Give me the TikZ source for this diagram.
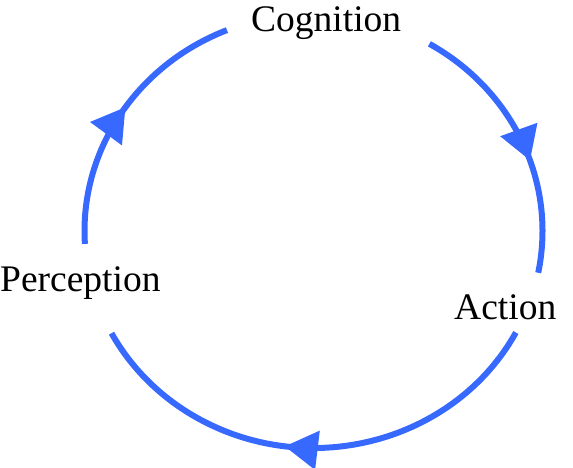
\documentclass[tikz,border=0pt]{standalone}
\usepackage{fontspec}
\setmainfont{Liberation Serif}
\usetikzlibrary{arrows.meta,decorations.markings}
\definecolor{cycblue}{RGB}{55,105,255}
\tikzset{
  lbl/.style={inner sep=0pt, anchor=base west, font=\fontsize{37.5pt}{40pt}\selectfont, text=black},
  cyc/.style={draw=cycblue, line width=6pt},
  headat/.style={decoration={markings, mark=at position #1 with {\arrow[cycblue]{Triangle[length=33pt,width=38pt]}}}, postaction={decorate}}
}
\begin{document}
\begin{tikzpicture}[x=1pt,y=1pt]
\useasboundingbox (0,0) rectangle (573,467);
\coordinate (c) at (313.5,236);
% labels
\node[lbl] (cog) at (251,435) {Cognition};
\node[lbl] (act) at (454,148) {Action};
\node[lbl] (per) at (0,176) {Perception};
% arc end points
\coordinate (l0) at ([shift={(183.4:229pt and 217pt)}]c);
\coordinate (r0) at ([shift={(59.6:229pt and 217pt)}]c);
\coordinate (b0) at ([shift={(-27.9:229pt and 217pt)}]c);
% arcs: Perception -> Cognition -> Action -> Perception
\draw[cyc, headat=0.53] (l0) arc[start angle=183.4, end angle=112.2, x radius=229pt, y radius=217pt];
\draw[cyc, headat=0.58] (r0) arc[start angle=59.6, end angle=-11.1, x radius=229pt, y radius=217pt];
\draw[cyc, headat=0.56] (b0) arc[start angle=-27.9, end angle=-151.9, x radius=229pt, y radius=217pt];
\end{tikzpicture}
\end{document}
